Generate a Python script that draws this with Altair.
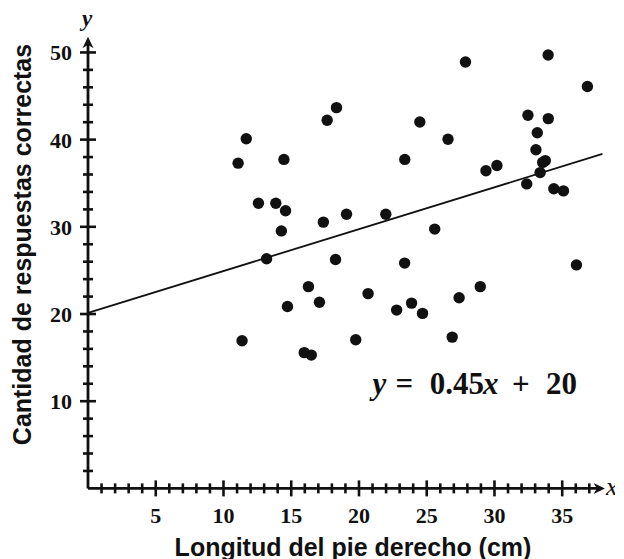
import altair as alt
import pandas as pd

# ---- data ----
x_vals = [11.08, 11.68, 14.46, 12.58, 13.86, 14.58, 14.27, 13.18, 11.37, 14.72,
          15.96, 16.48, 16.27, 17.08, 17.37, 19.08, 17.65, 18.34, 18.27, 19.76,
          20.67, 21.98, 23.38, 23.37, 22.78, 23.88, 24.69, 24.49, 26.57, 25.59,
          27.86, 26.88, 27.39, 28.95, 29.37, 30.18, 32.38, 32.47, 33.97, 33.16,
          33.06, 33.75, 33.56, 33.37, 34.38, 35.09, 33.96, 36.86, 36.05]
y_vals = [37.30, 40.10, 37.73, 32.71, 32.71, 31.85, 29.53, 26.34, 16.94, 20.86,
          15.57, 15.29, 23.14, 21.35, 30.54, 31.44, 42.22, 43.67, 26.26, 17.05,
          22.34, 31.44, 37.73, 25.84, 20.45, 21.25, 20.07, 42.03, 40.05, 29.74,
          48.91, 17.35, 21.87, 23.14, 36.43, 37.04, 34.92, 42.80, 42.41, 40.79,
          38.84, 37.59, 37.39, 36.22, 34.37, 34.12, 49.71, 46.10, 25.63]

line_x = [0, 37.97]
line_y = [20.13, 38.36]

x_major = [5, 10, 15, 20, 25, 30, 35]
x_minor = [i for i in range(1, 38) if i % 5 != 0]
y_major = [10, 20, 30, 40, 50]
y_minor = [i for i in range(2, 51, 2) if i % 10 != 0]

eq_italic = ["y", "x"]
eq_italic_x = [21.0, 29.15]
eq_bold = ["=", "0.45", "+", "20"]
eq_bold_x = [22.70, 25.22, 31.30, 33.80]
eq_y = 10.84

x_title = "Longitud del pie derecho (cm)"
y_title = "Cantidad de respuestas correctas"

# ---- scales ----
XS = alt.Scale(domain=[0, 38.4], nice=False, zero=False)
YS = alt.Scale(domain=[0, 52], nice=False, zero=False)
INK = "#111111"
SERIF = "Liberation Serif"
SANS = "Liberation Sans"


def X(f):
    return alt.X(f, type="quantitative", scale=XS, axis=None)


def Y(f):
    return alt.Y(f, type="quantitative", scale=YS, axis=None)


pts = pd.DataFrame({"x": x_vals, "y": y_vals})
points = alt.Chart(pts).mark_circle(size=130, color=INK, opacity=1).encode(x=X("x"), y=Y("y"))

reg = alt.Chart(pd.DataFrame({"x": line_x, "y": line_y})).mark_line(
    color=INK, strokeWidth=1.8).encode(x=X("x"), y=Y("y"))

# axis lines
xaxis = alt.Chart(pd.DataFrame({"x": [0], "x2": [37.7], "y": [0]})).mark_rule(
    color=INK, strokeWidth=2.8).encode(x=X("x"), x2="x2", y=Y("y"))
yaxis = alt.Chart(pd.DataFrame({"x": [0], "y": [0], "y2": [51.0]})).mark_rule(
    color=INK, strokeWidth=2.8).encode(x=X("x"), y=Y("y"), y2="y2")

arrow_path = "M0,-1L0.9,0.85L0,0.3L-0.9,0.85Z"
yarrow = alt.Chart(pd.DataFrame({"x": [0], "y": [51.09]})).mark_point(
    shape=arrow_path, size=150, filled=True, color=INK, opacity=1, strokeWidth=0
).encode(x=X("x"), y=Y("y"))
xarrow = alt.Chart(pd.DataFrame({"x": [37.7], "y": [0]})).mark_point(
    shape=arrow_path, size=150, filled=True, color=INK, opacity=1, strokeWidth=0, angle=90
).encode(x=X("x"), y=Y("y"))

# ticks crossing the axes
xt_major = alt.Chart(pd.DataFrame({"x": x_major, "y": [0] * len(x_major)})).mark_tick(
    orient="vertical", size=16, thickness=2.6, color=INK, opacity=1).encode(x=X("x"), y=Y("y"))
xt_minor = alt.Chart(pd.DataFrame({"x": x_minor, "y": [0] * len(x_minor)})).mark_tick(
    orient="vertical", size=10, thickness=2.6, color=INK, opacity=1).encode(x=X("x"), y=Y("y"))
yt_major = alt.Chart(pd.DataFrame({"y": y_major, "x": [0] * len(y_major)})).mark_tick(
    orient="horizontal", size=16, thickness=2.6, color=INK, opacity=1).encode(x=X("x"), y=Y("y"))
yt_minor = alt.Chart(pd.DataFrame({"y": y_minor, "x": [0] * len(y_minor)})).mark_tick(
    orient="horizontal", size=10, thickness=2.6, color=INK, opacity=1).encode(x=X("x"), y=Y("y"))

# tick labels
xl = alt.Chart(pd.DataFrame({"x": x_major, "t": [str(v) for v in x_major]})).mark_text(
    font=SERIF, fontWeight="bold", fontSize=22, color=INK, align="center", baseline="middle"
).encode(x=X("x"), y=alt.value(481), text="t:N")
yl = alt.Chart(pd.DataFrame({"y": y_major, "t": [str(v) for v in y_major]})).mark_text(
    font=SERIF, fontWeight="bold", fontSize=22, color=INK, align="right", baseline="middle", dy=1
).encode(x=alt.value(-16), y=Y("y"), text="t:N")

# axis letters
ylet = alt.Chart(pd.DataFrame({"t": ["y"]})).mark_text(
    font=SERIF, fontWeight="bold", fontStyle="italic", fontSize=23, color=INK,
    align="center", baseline="alphabetic"
).encode(x=alt.value(-1), y=alt.value(-9), text="t:N")
xlet = alt.Chart(pd.DataFrame({"t": ["x"]})).mark_text(
    font=SERIF, fontStyle="italic", fontSize=26, color=INK,
    align="left", baseline="alphabetic"
).encode(x=alt.value(518), y=alt.value(460), text="t:N")

# equation
eq1 = alt.Chart(pd.DataFrame({"x": eq_italic_x, "t": eq_italic})).mark_text(
    font=SERIF, fontWeight="bold", fontStyle="italic", fontSize=31, color=INK,
    align="left", baseline="alphabetic"
).encode(x=X("x"), y=alt.datum(eq_y, scale=YS, axis=None), text="t:N")
eq2 = alt.Chart(pd.DataFrame({"x": eq_bold_x, "t": eq_bold})).mark_text(
    font=SERIF, fontWeight="bold", fontSize=31, color=INK,
    align="left", baseline="alphabetic"
).encode(x=X("x"), y=alt.datum(eq_y, scale=YS, axis=None), text="t:N")

# titles
xt = alt.Chart(pd.DataFrame({"t": [x_title]})).mark_text(
    font=SANS, fontWeight="bold", fontSize=25, color=INK, align="center", baseline="alphabetic"
).encode(x=alt.value(265), y=alt.value(521.5), text="t:N")
yt = alt.Chart(pd.DataFrame({"t": [y_title]})).mark_text(
    font=SANS, fontWeight="bold", fontSize=25, color=INK, align="center", baseline="alphabetic",
    angle=270
).encode(x=alt.value(-57), y=alt.value(209.5), text="t:N")

chart = alt.layer(
    reg, xaxis, yaxis, xt_minor, xt_major, yt_minor, yt_major, xarrow, yarrow,
    points, xl, yl, ylet, xlet, eq1, eq2, xt, yt
).properties(
    width=520.3, height=453.4,
    autosize=alt.AutoSizeParams(type="none"),
    padding={"left": 80, "top": 27, "right": 7, "bottom": 71},
    background="white",
).configure_view(stroke=None)

chart.save("out.html", embed_options={"renderer": "svg", "actions": False})
